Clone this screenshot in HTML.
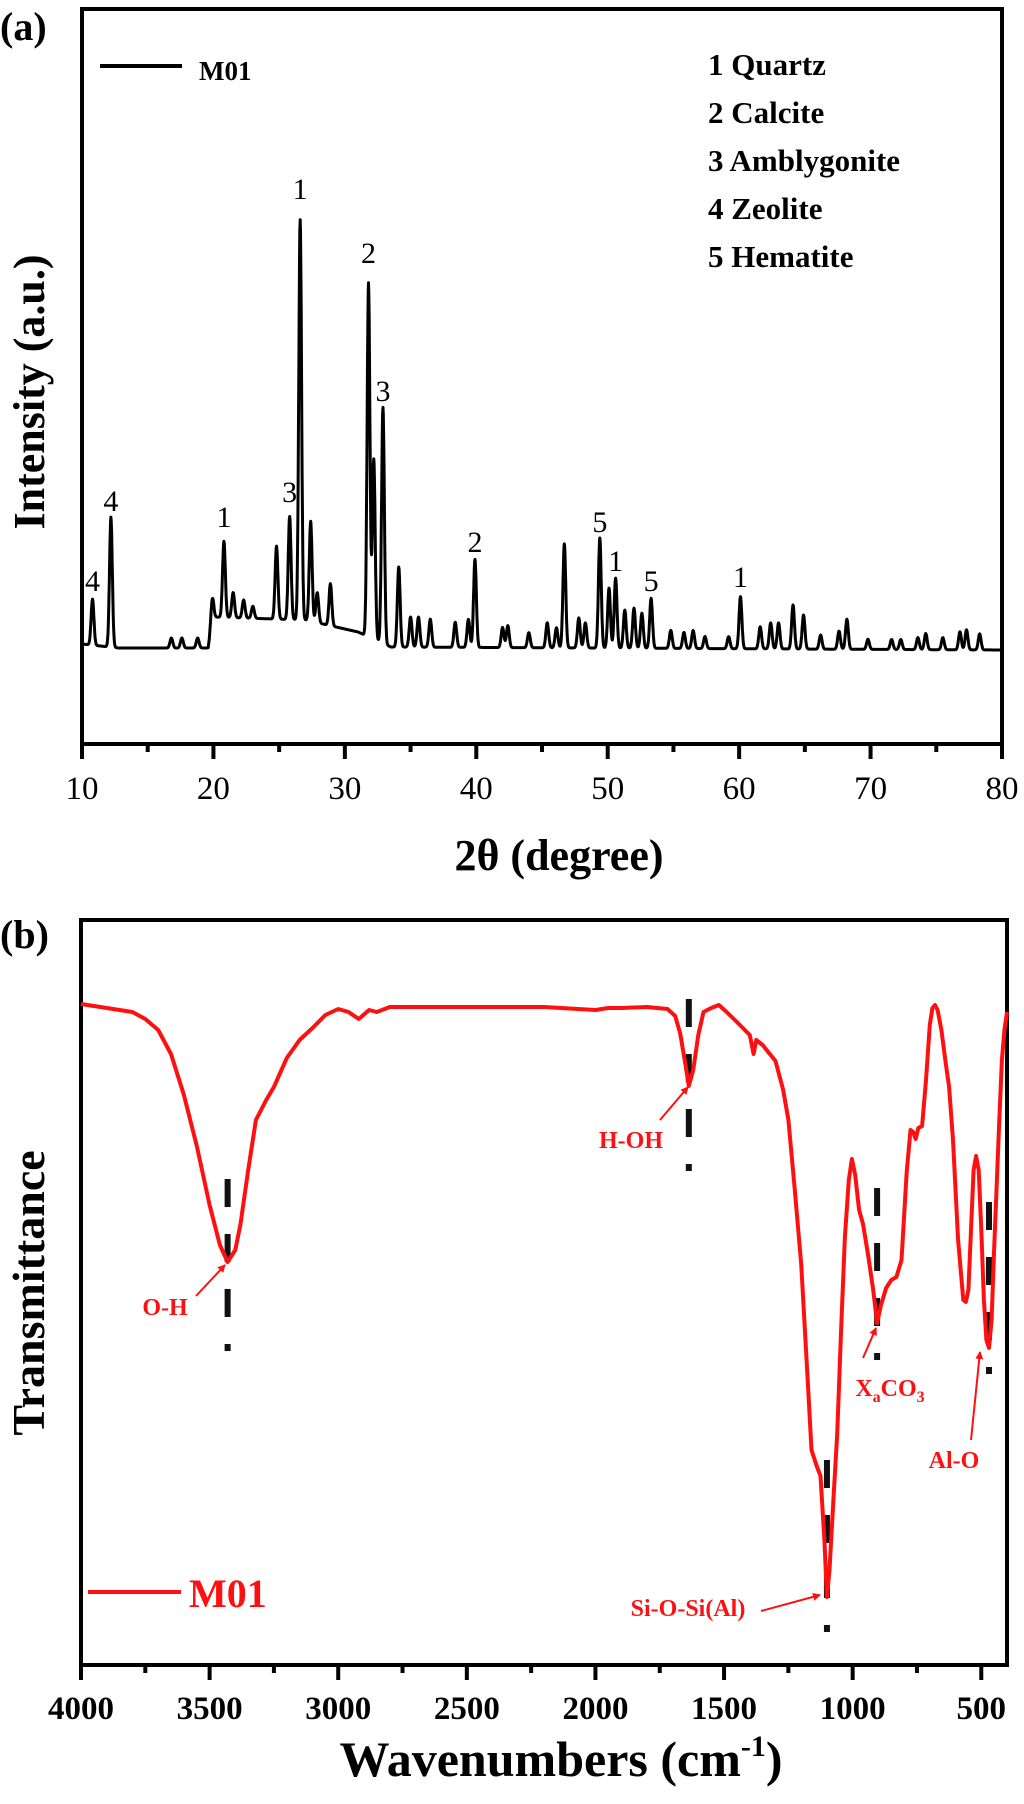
<!DOCTYPE html>
<html><head><meta charset="utf-8"><style>
html,body{margin:0;padding:0;background:#fff;}
svg{display:block;font-family:"Liberation Serif",serif;}
</style></head><body>
<svg id="fig" width="1024" height="1804" viewBox="0 0 1024 1804" xmlns="http://www.w3.org/2000/svg">
<g id="pa"></g>
<g id="pb"></g>
</svg>
<script>
// ---- XRD data (panel a) ----
const xrdPeakPos = [10.8,12.2,16.8,17.6,18.8,19.9,20.8,21.5,22.3,23.0,24.8,25.8,26.6,27.4,27.9,28.9,31.8,32.2,32.9,34.1,35.0,35.6,36.5,38.4,39.4,39.9,42.0,42.4,44.0,45.4,46.1,46.7,47.8,48.3,49.4,50.1,50.6,51.3,52.0,52.6,53.3,54.8,55.8,56.5,57.4,59.2,60.1,61.6,62.4,63.0,64.1,64.9,66.2,67.6,68.2,69.8,71.6,72.3,73.6,74.2,75.5,76.8,77.3,78.3];
const xrdPeakInt = [46,130,10,10,10,25,76,25,18,12,73,103,400,100,30,42,354,180,236,80,30,30,28,25,28,88,20,22,15,25,20,104,30,25,110,60,70,38,40,35,50,18,16,18,12,12,52,22,26,26,44,34,14,18,30,10,10,10,12,16,12,18,20,16];
const xrdWidth = 0.15;
const xrdBaseSeg = [[10,6],[12.8,2],[19.6,2],[20,33],[27,30],[31,18],[33.5,3],[80,0]];
const xrdTicks = [10,20,30,40,50,60,70,80];
const xrdMarkLabels = ['4','4','1','3','1','2','3','2','5','1','5','1'];
const xrdMarkPos = [10.8,12.2,20.8,25.8,26.6,31.8,32.9,39.9,49.4,50.6,53.3,60.1];
const xrdMarkInt = [70,150,134,159,462,398,260,109,129,90,70,74];
const phaseNames = ['1 Quartz','2 Calcite','3 Amblygonite','4 Zeolite','5 Hematite'];

// ---- FTIR data (panel b) ----
const ftirWn = [4000,3900,3800,3750,3700,3650,3600,3550,3500,3460,3430,3400,3380,3350,3320,3280,3250,3200,3150,3100,3050,3000,2960,2920,2880,2850,2800,2500,2200,2000,1950,1900,1800,1720,1690,1670,1650,1637,1620,1600,1580,1550,1520,1490,1450,1400,1385,1375,1350,1300,1270,1250,1225,1200,1175,1160,1140,1125,1110,1100,1090,1075,1060,1045,1030,1015,1003,990,975,960,940,920,905,890,870,850,830,810,790,775,765,755,745,730,715,700,690,680,670,655,640,625,610,590,570,560,550,540,530,520,510,500,490,480,470,460,450,440,430,420,410,400];
const ftirT = [1004,1008,1012,1019,1030,1054,1095,1146,1205,1245,1262,1250,1224,1170,1120,1100,1087,1058,1040,1028,1015,1009,1012,1019,1010,1012,1007,1007,1007,1010,1008,1008,1007,1009,1016,1034,1065,1086,1070,1035,1012,1008,1005,1012,1022,1035,1054,1040,1045,1061,1090,1120,1190,1264,1380,1450,1466,1476,1540,1597,1570,1500,1434,1330,1237,1180,1159,1175,1210,1224,1255,1290,1323,1305,1288,1280,1277,1260,1172,1130,1132,1139,1128,1126,1080,1025,1008,1005,1010,1030,1060,1087,1140,1240,1300,1302,1290,1230,1170,1156,1170,1230,1300,1340,1348,1320,1250,1185,1120,1060,1030,1012];
const ftirTicks = [4000,3500,3000,2500,2000,1500,1000,500];
const bandWn = [3430,1637,1100,905,470];
const bandLabels = ['O-H','H-OH','Si-O-Si(Al)','XaCO3','Al-O'];

const NS = 'http://www.w3.org/2000/svg';
function mk(parent, tag, attrs, text){
  const e = document.createElementNS(NS, tag);
  for (const k in attrs) e.setAttribute(k, attrs[k]);
  if (text !== undefined) e.textContent = text;
  parent.appendChild(e);
  return e;
}

// ===== Panel (a) =====
const pa = document.getElementById('pa');
const A = {l:82, r:1002, t:9, b:744, base:650};
const ax = v => A.l + (v-10)/70*(A.r-A.l);
const ay = v => A.base - v;

function baseAt(x){
  for (let i=0;i<xrdBaseSeg.length-1;i++){
    const a=xrdBaseSeg[i], b=xrdBaseSeg[i+1];
    if (x>=a[0] && x<=b[0]) return a[1]+(b[1]-a[1])*(x-a[0])/(b[0]-a[0]);
  }
  return 0;
}
let d='';
for (let x=10; x<=80.0001; x+=0.025){
  let v = baseAt(x);
  for (let i=0;i<xrdPeakPos.length;i++){
    const z=(x-xrdPeakPos[i])/xrdWidth;
    v += xrdPeakInt[i]*Math.exp(-z*z);
  }
  d += (d?'L':'M')+ax(x).toFixed(1)+','+ay(v).toFixed(1);
}
let el = mk(pa,'path',{d:d,fill:'none',stroke:'#000','stroke-width':3,'stroke-linejoin':'round'});



el = mk(pa,'rect',{x:A.l,y:A.t,width:A.r-A.l,height:A.b-A.t,fill:'none',stroke:'#000','stroke-width':4});



for (let v=10; v<=80; v+=5){
  const major = v%10===0;
  el = mk(pa,'line',{x1:ax(v),x2:ax(v),y1:A.b,y2:A.b+(major?15:8),stroke:'#000','stroke-width':4});
  
  
}
xrdTicks.forEach(v=>{
  el = mk(pa,'text',{x:ax(v),y:799,'text-anchor':'middle','font-size':33},String(v));
  
  
});
el = mk(pa,'text',{x:559,y:870,'text-anchor':'middle','font-size':44,'font-weight':'bold'},'2θ (degree)');


el = mk(pa,'text',{x:0,y:0,'text-anchor':'middle','font-size':44,'font-weight':'bold',transform:'translate(44,392) rotate(-90)'},'Intensity (a.u.)');


el = mk(pa,'text',{x:0,y:40,'font-size':40,'font-weight':'bold'},'(a)');



el = mk(pa,'line',{x1:100,x2:182,y1:66,y2:66,stroke:'#000','stroke-width':4});


el = mk(pa,'text',{x:199,y:80,'font-size':27,'font-weight':'bold'},'M01');



phaseNames.forEach((n,i)=>{
  el = mk(pa,'text',{x:708,y:75+i*48,'font-size':31,'font-weight':'bold'},n);
  
  
});
xrdMarkLabels.forEach((t,i)=>{
  el = mk(pa,'text',{x:ax(xrdMarkPos[i]),y:ay(xrdMarkInt[i])+11,'text-anchor':'middle','font-size':30},t);
  
  
});

// ===== Panel (b) =====
const pb = document.getElementById('pb');
const B = {l:81, r:1007, t:920, b:1665};
const bx = w => B.l + (4000-w)/(4000-400)*(B.r-B.l);
const by = v => v;

el = mk(pb,'rect',{x:B.l,y:B.t,width:B.r-B.l,height:B.b-B.t,fill:'none',stroke:'#000','stroke-width':4});


for (let w=4000; w>=500; w-=250){
  const major = w%500===0;
  el = mk(pb,'line',{x1:bx(w),x2:bx(w),y1:B.b,y2:B.b+(major?15:8),stroke:'#000','stroke-width':4});
  
  
}
ftirTicks.forEach(w=>{
  el = mk(pb,'text',{x:bx(w),y:1719,'text-anchor':'middle','font-size':33,'font-weight':'bold'},String(w));
  
  
});
el = mk(pb,'text',{x:561,y:1776,'text-anchor':'middle','font-size':50,'font-weight':'bold'},'Wavenumbers (cm');


mk(el,'tspan',{'font-size':30,dy:-20},'-1');
mk(el,'tspan',{dy:20},')');
el = mk(pb,'text',{x:0,y:0,'text-anchor':'middle','font-size':46,'font-weight':'bold',transform:'translate(44,1293) rotate(-90)'},'Transmittance');


el = mk(pb,'text',{x:0,y:948,'font-size':40,'font-weight':'bold'},'(b)');



const bandTop = [1179,999,1460,1188,1202];
bandWn.forEach((w,i)=>{
  const x=bx(w), t=bandTop[i];
  const g = mk(pb,'g',{});
  
  
  for (let k=0;k<3;k++) mk(g,'rect',{x:x-3,y:t+k*55,width:6,height:28,fill:'#111'});
  mk(g,'rect',{x:x-3,y:t+165,width:6,height:7,fill:'#111'});
});

let dp='';
ftirWn.forEach((w,i)=>{ dp += (i?'L':'M')+bx(w).toFixed(1)+','+by(ftirT[i]).toFixed(1); });
el = mk(pb,'path',{d:dp,fill:'none',stroke:'#ff1010','stroke-width':4,'stroke-linejoin':'round'});



el = mk(pb,'line',{x1:88,x2:181,y1:1592,y2:1592,stroke:'#ff1010','stroke-width':4});


el = mk(pb,'text',{x:189,y:1607,'font-size':40,'font-weight':'bold',fill:'#ff1010'},'M01');



const defs = mk(document.getElementById('fig'),'defs',{});
const mkr = mk(defs,'marker',{id:'ah',markerWidth:8,markerHeight:8,refX:7,refY:4,orient:'auto',markerUnits:'userSpaceOnUse'});
mk(mkr,'path',{d:'M0,0L8,4L0,8Z',fill:'#ff1010'});
const ann = [
  {lx:165,ly:1315,x1:196,y1:1296,x2:225,y2:1265},
  {lx:631,ly:1148,x1:660,y1:1120,x2:688,y2:1087},
  {lx:688,ly:1616,x1:761,y1:1611,x2:820,y2:1595},
  {lx:890,ly:1396,x1:863,y1:1358,x2:876,y2:1328},
  {lx:954,ly:1468,x1:971,y1:1440,x2:980,y2:1352}
];
ann.forEach((a,i)=>{
  el = mk(pb,'line',{x1:a.x1,y1:a.y1,x2:a.x2,y2:a.y2,stroke:'#ff1010','stroke-width':2,'marker-end':'url(#ah)'});
  
  
  const t = mk(pb,'text',{x:a.lx,y:a.ly,'text-anchor':'middle','font-size':24,'font-weight':'bold',fill:'#ff1010'});
  
  
  const s = bandLabels[i];
  if (s==='XaCO3'){
    mk(t,'tspan',{},'X'); mk(t,'tspan',{'font-size':16,dy:6},'a');
    mk(t,'tspan',{dy:-6},'CO'); mk(t,'tspan',{'font-size':16,dy:6},'3');
  } else t.textContent = s;
});
</script>
</body></html>
